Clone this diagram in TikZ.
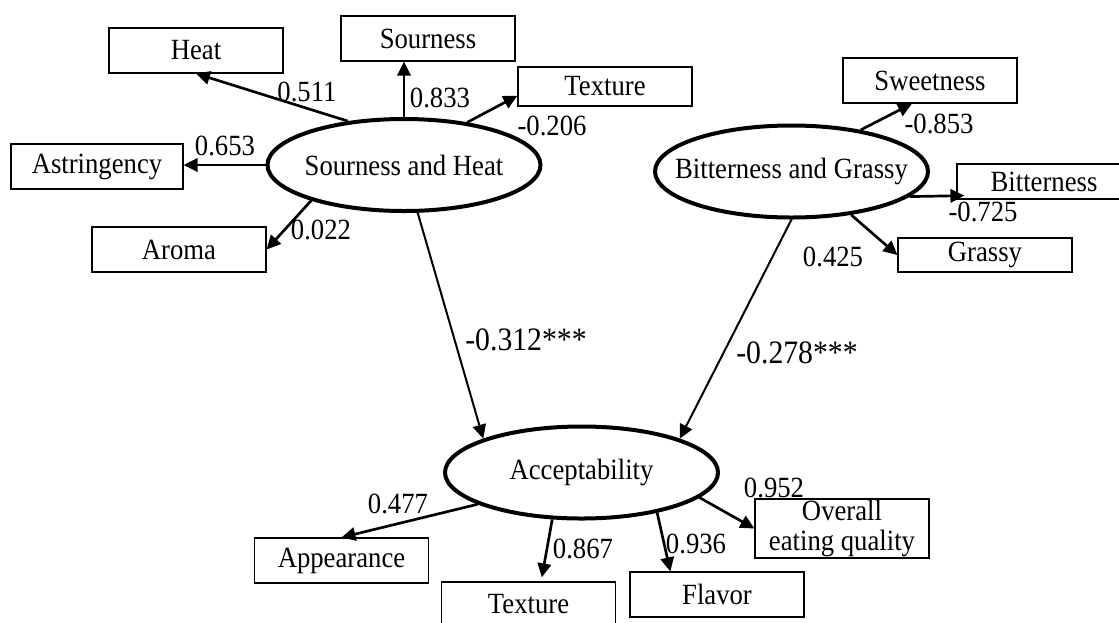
\documentclass[tikz,border=0pt]{standalone}
\usepackage{fontspec}
\setmainfont{Liberation Serif}[FakeStretch=0.91]
\usetikzlibrary{positioning, shapes.geometric, arrows.meta}

\tikzset{
  obs/.style={draw, line width=0.9pt, minimum width=130.5pt, minimum height=33.75pt, inner sep=0pt},
  latent/.style={draw, ellipse, line width=3pt, minimum width=204.75pt, minimum height=69pt, inner sep=0pt},
  coef/.style={inner sep=0pt},
  bigcoef/.style={inner sep=0pt, font=\fontsize{24.5}{28}\selectfont},
  load/.style={->, line width=2pt},
  effect/.style={->, line width=1.5pt}
}

\begin{document}
\begin{tikzpicture}[x=0.75pt, y=-0.75pt, >={Triangle[length=10.5pt, width=10pt]},
    font=\fontsize{22}{23}\selectfont]
  \clip (0,0) rectangle (1119,622);

  % latent variables
  \node[latent] (sh)     at (404,165)   {\makebox[0pt]{Sourness and Heat}};
  \node[latent] (bg)     at (791.5,171.5) {\makebox[0pt]{Bitterness and Grassy}};
  \node[latent] (accept) at (581.5,472.5) {\makebox[0pt]{Acceptability}};

  % indicators
  \node[obs] (heat)    at (196,50.5)   {Heat};
  \node[obs] (sour)    at (428,38.5)   {Sourness};
  \node[obs, minimum height=29.25pt] (textop) at (605,86.5) {Texture};
  \node[obs, minimum width=129pt] (astr) at (97,166.5) {Astringency};
  \node[obs] (aroma)   at (179,249.5)  {Aroma};
  \node[obs] (sweet)   at (930,80.5)   {Sweetness};
  \node[obs, minimum height=26.25pt] (bitter) at (1044,181.5) {Bitterness};
  \node[obs, minimum height=25.5pt]  (grassy) at (985,255)    {Grassy};
  \node[obs] (appear)  at (341.5,560.5) {Appearance};
  \node[obs] (texbot)  at (528.5,604.5) {Texture};
  \node[obs] (flavor)  at (717,594.5)  {Flavor};
  \node[obs, minimum height=44.25pt, align=center] (overall) at (842,528.5)
  {Overall\\eating quality};

  \draw[load] (sh.142) -- (heat.south)   node[coef] at (307,92)  {0.511};
  \draw[load] (sh.north) -- (sh.north |- sour.south) node[coef] at (440,98) {0.833};
  \draw[load] (sh.34)  -- (textop.186)   node[coef] at (552,126) {-0.206};
  \draw[load] (sh.west) -- (sh.west -| astr.east) node[coef] at (225,146) {0.653};
  \draw[load] (sh.201) -- (aroma.east)   node[coef] at (321,230) {0.022};

  \draw[load] (bg.31)  -- (sweet.232)    node[coef] at (939,124) {-0.853};
  \draw[load] (bg.348) -- ([xshift=6pt,yshift=3pt]bitter.south west)
  node[coef] at (983,212) {-0.725};
  \draw[load] (bg.324) -- (grassy.west)  node[coef] at (833,257) {0.425};

  \draw[effect] (sh.286) -- (accept.161) node[bigcoef] at (526,340) {-0.312***};
  \draw[effect] (bg.south) -- (accept.19) node[bigcoef] at (797,353) {-0.278***};

  \draw[load] (accept.197) -- (appear.north) node[coef] at (398,504) {0.477};
  \draw[load] (accept.238) -- ([xshift=10pt,yshift=3pt]texbot.north)
  node[coef] at (583,549) {0.867};
  \draw[load] (accept.332) -- ([xshift=-35pt]flavor.north) node[coef] at (696,544) {0.936};
  \draw[load] (accept.348) -- (overall.west) node[coef] at (774,488) {0.952};
\end{tikzpicture}
\end{document}
